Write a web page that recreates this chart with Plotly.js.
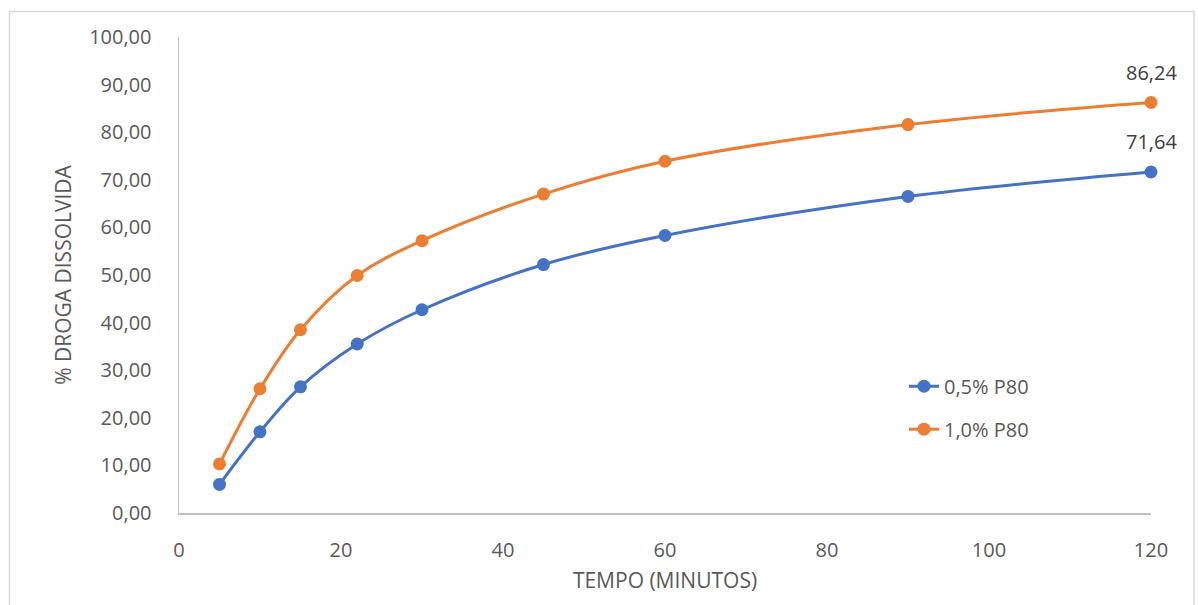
<!DOCTYPE html>
<html>
<head>
<meta charset="utf-8">
<script src="https://cdn.plot.ly/plotly-3.0.1.min.js"></script>
<style>
  html, body { margin: 0; padding: 0; background: #ffffff; }
  #chart { width: 1198px; height: 605px; }
</style>
</head>
<body>
<div id="chart"></div>
<script>
// Data
const tempo = [5, 10, 15, 22, 30, 45, 60, 90, 120];
const p80_05 = [6.0, 17.05, 26.5, 35.5, 42.7, 52.2, 58.3, 66.5, 71.64];
const p80_10 = [10.3, 26.1, 38.5, 49.9, 57.2, 67.0, 73.9, 81.6, 86.24];
const seriesNames = ["0,5% P80", "1,0% P80"];
const yTickVals = [0, 10, 20, 30, 40, 50, 60, 70, 80, 90, 100];
const xTickVals = [0, 20, 40, 60, 80, 100, 120];
const xTitle = "TEMPO (MINUTOS)";
const yTitle = "% DROGA DISSOLVIDA";

const FONT = "'Open Sans', 'Noto Sans', sans-serif";
const TXT = "#595959";
const FS = 20;

function fmt(v) { return v.toFixed(2).replace('.', ','); }

const traces = [
  {
    x: tempo, y: p80_05, name: seriesNames[0], legendgroup: 'a',
    mode: 'lines+markers',
    line: { color: '#4472C4', width: 3, shape: 'spline', smoothing: 1 },
    marker: { color: '#4472C4', size: 13 },
    cliponaxis: false
  },
  {
    x: tempo, y: p80_10, name: seriesNames[1], legendgroup: 'b',
    mode: 'lines+markers',
    line: { color: '#ED7D31', width: 3, shape: 'spline', smoothing: 1 },
    marker: { color: '#ED7D31', size: 13 },
    cliponaxis: false
  }
];

const n = tempo.length - 1;
const annotations = [p80_05, p80_10].map(arr => ({
  x: tempo[n], y: arr[n], xref: 'x', yref: 'y',
  text: fmt(arr[n]), showarrow: false, yshift: 30,
  font: { family: FONT, size: FS, color: '#404040' }
}));

const L = 179, R = 47, T = 37, B = 91.5;
const W = 1198, H = 605;
const pw = W - L - R, ph = H - T - B;
function px2paperX(px) { return (px - L) / pw; }
function px2paperY(py) { return (H - B - py) / ph; }

const layout = {
  width: W, height: H,
  margin: { l: L, r: R, t: T, b: B, pad: 0 },
  paper_bgcolor: '#ffffff', plot_bgcolor: '#ffffff',
  font: { family: FONT, size: FS, color: TXT },
  separators: ',.',
  showlegend: true,
  legend: {
    x: px2paperX(904), y: px2paperY(367), xanchor: 'left', yanchor: 'top',
    bgcolor: 'rgba(0,0,0,0)', font: { family: FONT, size: FS, color: TXT },
    itemwidth: 30, tracegroupgap: 14
  },
  annotations: annotations,
  xaxis: {
    range: [0, 120], tickvals: xTickVals, showgrid: false, zeroline: false,
    showline: true, linecolor: '#BFBFBF', linewidth: 1.5,
    ticks: '', ticklabelstandoff: 18,
    tickfont: { family: FONT, size: FS, color: TXT },
    title: { text: xTitle, font: { family: FONT, size: 21, color: TXT }, standoff: 12 }
  },
  yaxis: {
    range: [0, 100], tickvals: yTickVals, tickformat: '.2f',
    showgrid: false, zeroline: false,
    showline: true, linecolor: '#BFBFBF', linewidth: 1.5,
    ticks: '', ticklabelstandoff: 22,
    tickfont: { family: FONT, size: FS, color: TXT },
    title: { text: yTitle, font: { family: FONT, size: 21, color: TXT }, standoff: 12 }
  },
  shapes: [{
    type: 'rect', xref: 'paper', yref: 'paper', layer: 'below',
    x0: px2paperX(9.5), x1: px2paperX(1194), y0: px2paperY(620), y1: px2paperY(11.5),
    line: { color: '#D9D9D9', width: 1.5 }, fillcolor: 'rgba(0,0,0,0)'
  }]
};

Plotly.newPlot('chart', traces, layout, { displayModeBar: false, staticPlot: true });
</script>
</body>
</html>
